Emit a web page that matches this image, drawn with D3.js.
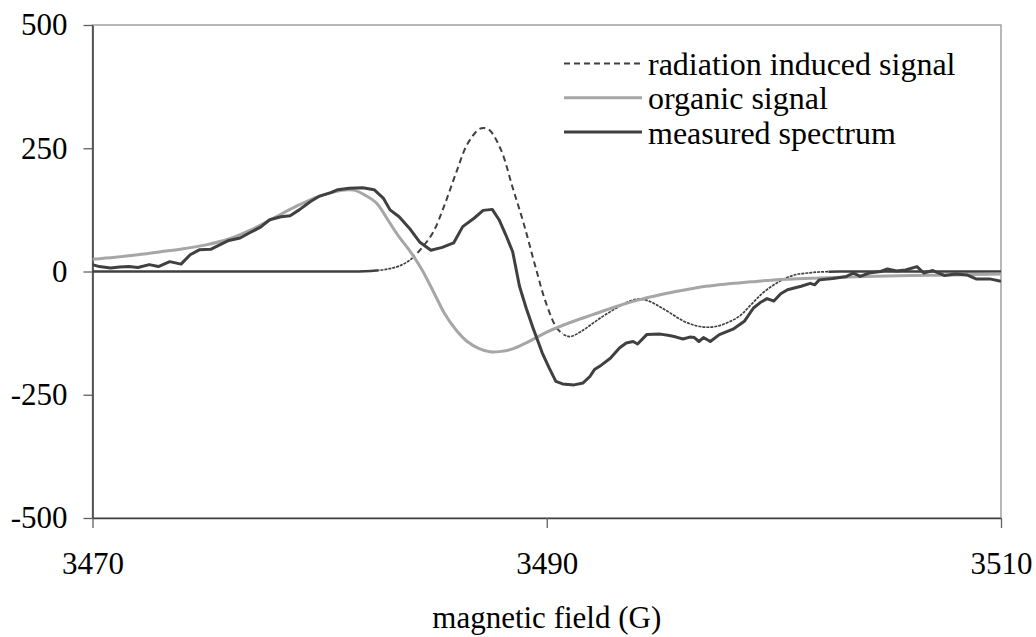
<!DOCTYPE html>
<html><head><meta charset="utf-8">
<script src="https://cdn.jsdelivr.net/npm/d3@7"></script>
<style>
body{margin:0;background:#fff}
#c text, #c .serif{font-family:"Liberation Serif","Times New Roman",Tinos,serif !important}
</style>
</head><body><svg id="c" width="1036" height="637"></svg>
<script>
// ---- data ----
const xTicks = [3470, 3490, 3510];
const yTicks = [-500, -250, 0, 250, 500];
const seriesNames = ["radiation induced signal", "organic signal", "measured spectrum"];

const radiationX = [3470,3475,3480,3481,3482,3482.5,3483,3483.5,3484,3484.5,3485,3485.5,3486,3486.5,3487,3487.25,3487.5,3488,3488.5,3489,3489.5,3490,3490.5,3491,3491.5,3492,3492.5,3493,3493.5,3494,3494.5,3495,3495.5,3496,3496.5,3497,3497.5,3498,3498.5,3499,3499.5,3500,3500.5,3501,3501.5,3502,3503,3505,3510];
const radiationY = [0,0,0,0,0.5,2,5,11,24,48,80,135,199,258,288,291,286,245,170,95,10,-68,-118,-132,-122,-106,-90,-76,-63,-56,-60,-72,-86,-100,-109,-113,-111,-103,-90,-67,-44,-27,-14,-6,-3,-1,0,0,0];

const organicX = [3470,3471,3472,3473,3474,3475,3476,3477,3478,3479,3480,3480.5,3481,3481.5,3482,3482.5,3483,3483.5,3484,3484.5,3485,3485.5,3486,3486.5,3487,3487.5,3488,3488.5,3489,3489.5,3490,3491,3492,3493,3494,3495,3496,3497,3498,3499,3500,3502,3504,3506,3508,3510];
const organicY = [25,29,34,40,46,54,66,85,109,133,153,160,165,165,155,139,105,70,40,4,-40,-85,-118,-142,-156,-163,-162,-157,-147,-135,-123,-104,-88,-72,-58,-47,-38,-30,-25,-21,-17,-13,-10,-8,-7,-5];

const measuredX = [3470.0,3470.3,3470.8,3471.2,3471.6,3472.0,3472.5,3472.9,3473.4,3473.9,3474.3,3474.7,3475.2,3475.6,3476.0,3476.5,3476.9,3477.4,3477.8,3478.3,3478.7,3479.1,3479.6,3480.0,3480.5,3480.8,3481.3,3481.9,3482.4,3482.8,3483.1,3483.5,3484.0,3484.4,3484.9,3485.4,3485.9,3486.3,3486.8,3487.2,3487.6,3487.9,3488.2,3488.5,3488.8,3489.1,3489.4,3489.8,3490.1,3490.4,3490.7,3491.2,3491.6,3491.9,3492.1,3492.4,3492.8,3493.2,3493.5,3493.8,3494.0,3494.4,3495.0,3495.4,3495.7,3496.0,3496.3,3496.5,3496.7,3496.9,3497.2,3497.6,3498.2,3498.7,3499.1,3499.4,3499.7,3500.0,3500.3,3500.6,3501.2,3501.6,3501.8,3502.0,3502.6,3503.2,3503.5,3503.8,3504.2,3504.7,3505.0,3505.4,3505.8,3506.3,3506.6,3507.0,3507.5,3508.0,3508.5,3508.9,3509.5,3510.0];
const measuredY = [14,10,7,9,10,8,14,10,20,15,34,44,45,54,63,68,78,90,105,111,113,125,142,153,160,166,169,170,166,149,125,111,85,60,43,49,58,91,108,124,126,105,74,40,-30,-75,-115,-165,-195,-223,-228,-230,-226,-213,-199,-190,-176,-155,-145,-142,-147,-128,-127,-130,-133,-137,-133,-134,-142,-134,-142,-128,-117,-101,-74,-63,-55,-60,-45,-37,-30,-24,-27,-17,-14,-10,-3,-10,-3,0,5,1,3,10,-3,2,-8,-5,-7,-15,-15,-20];

const FONT = '"Liberation Serif"';

function draw() {
  const svg = d3.select("#c");
  const L = 92.5, R = 1001, T = 25, B = 518;
  const x = d3.scaleLinear().domain([3470, 3510]).range([L, R]);
  const y = d3.scaleLinear().domain([-500, 500]).range([B, T]);
  const plain = d => String(d);
  const serif = (sel, size) => sel.classed("serif", true)
    .attr("font-family", FONT).attr("font-size", size)
    .style("font-family", FONT, "important").style("font-size", size + "px");

  // plot area border
  svg.append("rect").attr("x", L).attr("y", T).attr("width", R - L).attr("height", B - T)
    .attr("fill", "none").attr("stroke", "#a0a0a0").attr("stroke-width", 1.5);

  // axes
  const ya = svg.append("g").attr("transform", `translate(${L},0)`)
    .call(d3.axisLeft(y).tickValues(yTicks).tickSize(9).tickSizeOuter(0).tickPadding(16).tickFormat(plain));
  serif(ya, 31);
  ya.select(".domain").attr("stroke", "#404040").attr("stroke-width", 1.6);
  ya.selectAll(".tick line").attr("stroke", "#606060").attr("stroke-width", 1.3);
  serif(ya.selectAll("text"), 31).attr("fill", "#000");

  const xa = svg.append("g").attr("transform", `translate(0,${B})`)
    .call(d3.axisBottom(x).tickValues(xTicks).tickSize(10).tickSizeOuter(0).tickPadding(24).tickFormat(plain));
  serif(xa, 31);
  xa.select(".domain").attr("stroke", "#404040").attr("stroke-width", 1.6);
  xa.selectAll(".tick line").attr("stroke", "#606060").attr("stroke-width", 1.3);
  serif(xa.selectAll("text"), 31).attr("fill", "#000");

  serif(svg.append("text").attr("x", (L + R) / 2).attr("y", 628).attr("text-anchor", "middle"), 31)
    .text("magnetic field (G)");

  // clip
  const defs = svg.append("defs");
  defs.append("clipPath").attr("id", "plot").append("rect")
    .attr("x", L).attr("y", T).attr("width", R - L).attr("height", B - T);

  const zip = (xs, ys) => xs.map((v, i) => [v, ys[i]]);
  const smooth = d3.line().x(d => x(d[0])).y(d => y(d[1])).curve(d3.curveCatmullRom.alpha(0.5));
  const straight = d3.line().x(d => x(d[0])).y(d => y(d[1]));

  const g = svg.append("g").attr("clip-path", "url(#plot)");

  // radiation induced signal: drawn with region-dependent dash look
  const radStyles = [
    {from: 3470, to: 3482.6, w: 2.4, dash: null},
    {from: 3482.6, to: 3484.2, w: 1.7, dash: "3,1"},
    {from: 3484.2, to: 3490.7, w: 2.0, dash: "6,4"},
    {from: 3490.7, to: 3502.4, w: 1.7, dash: "3,1"},
    {from: 3502.4, to: 3510, w: 2.4, dash: null}
  ];
  const radD = smooth(zip(radiationX, radiationY));
  radStyles.forEach((s, i) => {
    defs.append("clipPath").attr("id", "rc" + i).append("rect")
      .attr("x", x(s.from)).attr("y", 0).attr("width", x(s.to) - x(s.from)).attr("height", 637);
    g.append("g").attr("clip-path", `url(#rc${i})`).append("path")
      .attr("d", radD).attr("fill", "none").attr("stroke", "#404040")
      .attr("stroke-width", s.w).attr("stroke-dasharray", s.dash);
  });

  // organic signal
  g.append("path").attr("d", smooth(zip(organicX, organicY)))
    .attr("fill", "none").attr("stroke", "#a6a6a6").attr("stroke-width", 3);

  // measured spectrum
  g.append("path").attr("d", straight(zip(measuredX, measuredY)))
    .attr("fill", "none").attr("stroke", "#404040").attr("stroke-width", 3)
    .attr("stroke-linejoin", "round");

  // legend
  const legStyles = [
    {stroke: "#404040", w: 2, dash: "6,4"},
    {stroke: "#a6a6a6", w: 3, dash: null},
    {stroke: "#404040", w: 3, dash: null}
  ];
  const leg = svg.append("g");
  seriesNames.forEach((name, i) => {
    const cy = 63.5 + i * 34.3;
    leg.append("line").attr("x1", 564).attr("x2", 642).attr("y1", cy).attr("y2", cy)
      .attr("stroke", legStyles[i].stroke).attr("stroke-width", legStyles[i].w)
      .attr("stroke-dasharray", legStyles[i].dash);
    serif(leg.append("text").attr("x", 648).attr("y", cy + 11.5), 32).text(name);
  });
}

draw();
</script></body></html>
